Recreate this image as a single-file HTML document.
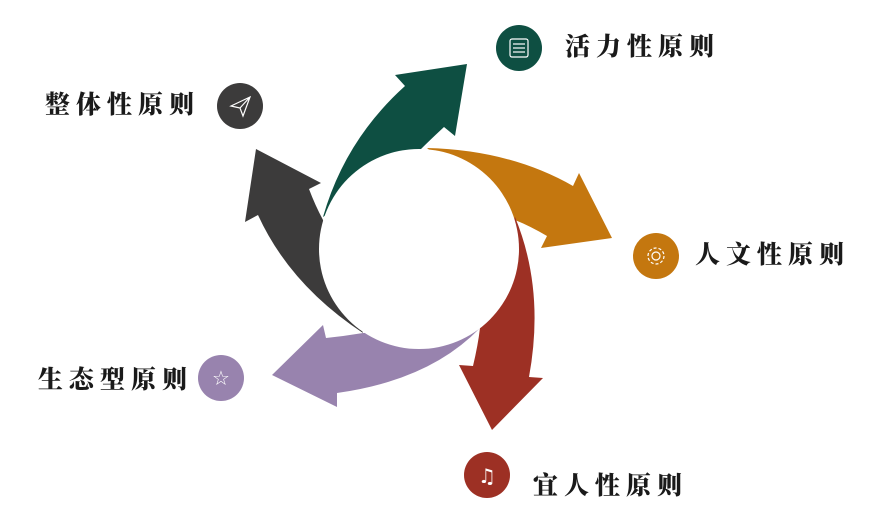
<!DOCTYPE html>
<html><head><meta charset="utf-8"><style>
html,body{margin:0;padding:0;background:#fff;}
body{width:877px;height:525px;position:relative;overflow:hidden;}
.t{position:absolute;font-family:"Liberation Serif","Noto Serif CJK SC",serif;font-weight:900;font-size:25px;letter-spacing:6px;color:#1a1a1a;line-height:30px;white-space:nowrap;}
svg{position:absolute;left:0;top:0;}
</style></head><body>
<svg width="877" height="525" viewBox="0 0 877 525">
<path d="M323,217 Q345,140 405,86 L395,75 L467,64 L455,136 L444,127 Q430,140 420,150 Z" fill="#0e4f42"/>
<path d="M427,148 Q510,150 573,186 L579,173 L612,238 L541,248 L547,236 Q530,226 515,220 Z" fill="#c4770f"/>
<path d="M515,217 Q545,290 529,377 L543,378 L492,430 L459,365 L473,366 Q478,345 480,328 Z" fill="#9d3024"/>
<path d="M480,328 Q430,380 337,393 L337,407 L272,375 L323,325 L326,338 Q345,336 363,333 Z" fill="#9883ae"/>
<path d="M363,333 Q290,285 258,215 L245,222 L256,149 L321,183 L309,189 Q315,205 323,220 Z" fill="#3c3b3b"/>
<circle cx="419" cy="249" r="100" fill="#fff"/>
<circle cx="519" cy="48" r="23" fill="#0e4f42"/>
<g stroke="#fff" stroke-width="1.2" fill="none"><rect x="510" y="39" width="18" height="18" rx="2"/><line x1="513" y1="44" x2="525" y2="44"/><line x1="513" y1="48" x2="525" y2="48"/><line x1="513" y1="52" x2="525" y2="52"/></g>
<circle cx="240" cy="106" r="23" fill="#3c3b3b"/>
<path d="M231,106 L250,97 L243,116 L240,108 Z M240,108 L250,97" stroke="#fff" stroke-width="1.2" fill="none"/>
<circle cx="656" cy="256" r="23" fill="#c4770f"/>
<circle cx="656" cy="256" r="4" stroke="#fff" stroke-width="1.2" fill="none"/>
<circle cx="656" cy="256" r="8" stroke="#fff" stroke-width="1.2" fill="none" stroke-dasharray="3 2"/>
<circle cx="487" cy="475" r="23" fill="#9d3024"/>
<text x="487" y="483" font-size="20" fill="#fff" text-anchor="middle" font-family="DejaVu Sans">♫</text>
<circle cx="221" cy="378" r="23" fill="#9883ae"/>
<text x="221" y="385" font-size="20" fill="#fff" text-anchor="middle" font-family="DejaVu Sans">☆</text>
</svg>
<div class="t" style="left:565px;top:33px;">活力性原则</div>
<div class="t" style="left:45px;top:91px;">整体性原则</div>
<div class="t" style="left:695px;top:241px;">人文性原则</div>
<div class="t" style="left:533px;top:472px;">宜人性原则</div>
<div class="t" style="left:38px;top:366px;">生态型原则</div>
</body></html>
